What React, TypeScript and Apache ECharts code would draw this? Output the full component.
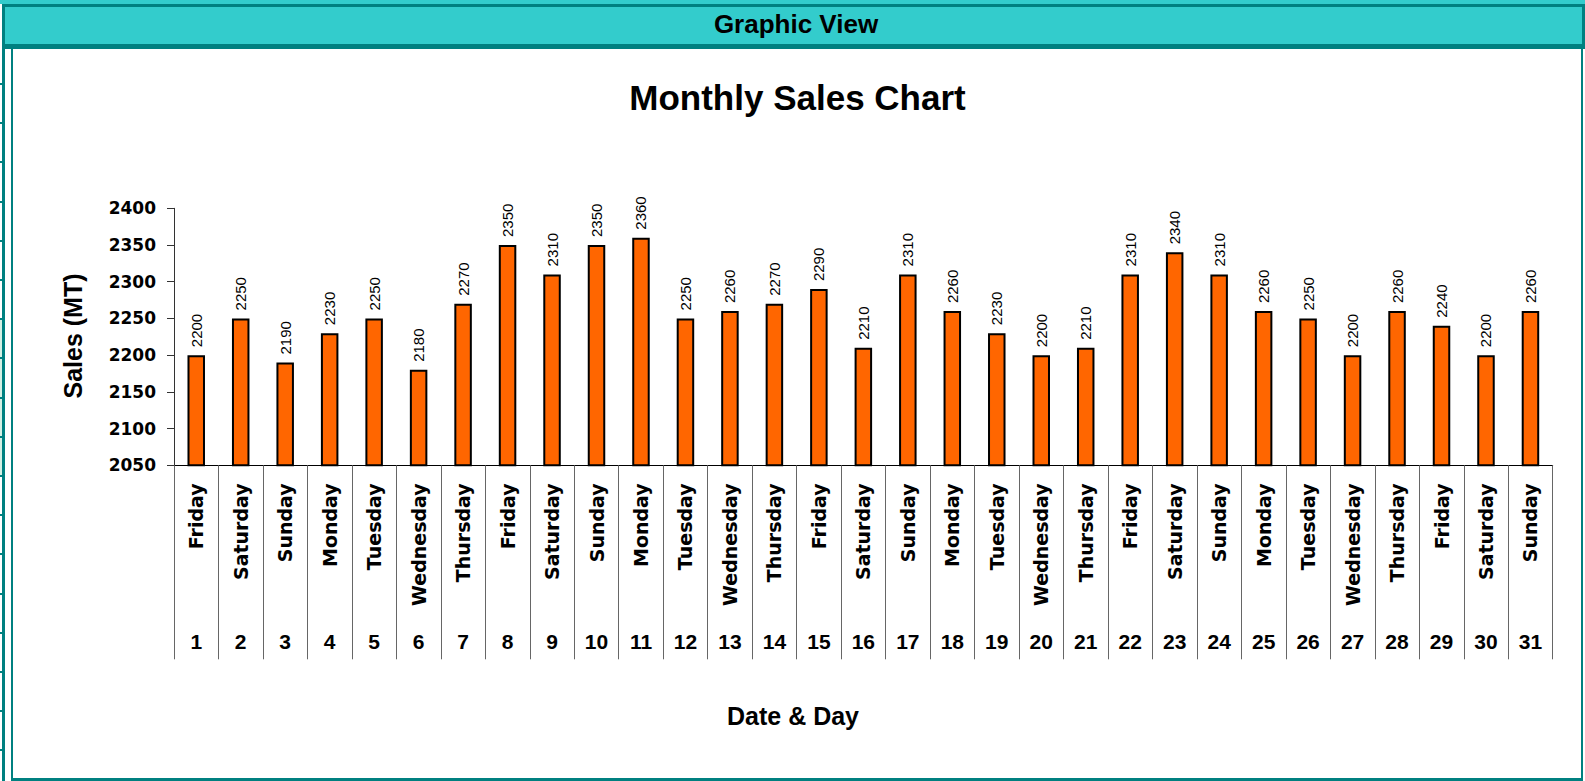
import React, { useEffect, useRef } from "react";
import * as echarts from "echarts";

const days = [
  "Friday", "Saturday", "Sunday", "Monday", "Tuesday", "Wednesday", "Thursday",
  "Friday", "Saturday", "Sunday", "Monday", "Tuesday", "Wednesday", "Thursday",
  "Friday", "Saturday", "Sunday", "Monday", "Tuesday", "Wednesday", "Thursday",
  "Friday", "Saturday", "Sunday", "Monday", "Tuesday", "Wednesday", "Thursday",
  "Friday", "Saturday", "Sunday",
];
const dates = [
  "1", "2", "3", "4", "5", "6", "7", "8", "9", "10", "11", "12", "13", "14", "15", "16",
  "17", "18", "19", "20", "21", "22", "23", "24", "25", "26", "27", "28", "29", "30", "31",
];
const sales = [
  2200, 2250, 2190, 2230, 2250, 2180, 2270, 2350, 2310, 2350, 2360, 2250, 2260, 2270, 2290, 2210,
  2310, 2260, 2230, 2200, 2210, 2310, 2340, 2310, 2260, 2250, 2200, 2260, 2240, 2200, 2260,
];
const yMin = 2050;
const yMax = 2400;
const yStep = 50;

const headerText = "Graphic View";
const titleText = "Monthly Sales Chart";
const xName = "Date & Day";
const yName = "Sales (MT)";

const TEAL = "#33CCCC";
const DARK = "#008080";
const SANS = "'Liberation Sans', Arial, sans-serif";
const DEJA = "'DejaVu Sans', sans-serif";

export default function App() {
  const ref = useRef<HTMLDivElement>(null);

  useEffect(() => {
    document.body.style.margin = "0";
    if (!ref.current) return;
    const chart = echarts.init(ref.current, null, { renderer: "svg" });
    chart.setOption({
      animation: false,
      backgroundColor: "transparent",
      grid: { left: 174, top: 208.3, width: 1378.7, height: 257, containLabel: false },
      graphic: [
        {
          type: "text",
          x: 796,
          y: 24,
          style: {
            text: headerText,
            font: `bold 26px ${SANS}`,
            fill: "#000",
            align: "center",
            verticalAlign: "middle",
          },
        },
        {
          type: "text",
          x: 797.5,
          y: 97,
          style: {
            text: titleText,
            font: `bold 35px ${SANS}`,
            fill: "#000",
            align: "center",
            verticalAlign: "middle",
          },
        },
        {
          type: "text",
          x: 793,
          y: 716,
          style: {
            text: xName,
            font: `bold 25px ${SANS}`,
            fill: "#000",
            align: "center",
            verticalAlign: "middle",
          },
        },
        {
          type: "text",
          x: 73,
          y: 336,
          rotation: Math.PI / 2,
          style: {
            text: yName,
            font: `bold 25px ${SANS}`,
            fill: "#000",
            align: "center",
            verticalAlign: "middle",
          },
        },
      ],
      xAxis: [
        {
          type: "category",
          data: days,
          position: "bottom",
          axisLine: { show: true, lineStyle: { color: "#000", width: 1 } },
          axisTick: {
            show: true,
            interval: 0,
            length: 194,
            alignWithLabel: false,
            lineStyle: { color: "#666", width: 1 },
          },
          axisLabel: {
            interval: 0,
            rotate: 90,
            margin: 18,
            color: "#000",
            fontFamily: DEJA,
            fontWeight: "bold",
            fontSize: 19,
          },
          splitLine: { show: false },
        },
        {
          type: "category",
          data: dates,
          position: "bottom",
          axisLine: { show: false },
          axisTick: { show: false },
          axisLabel: {
            interval: 0,
            margin: 166,
            color: "#000",
            fontFamily: SANS,
            fontWeight: "bold",
            fontSize: 21,
          },
          splitLine: { show: false },
        },
      ],
      yAxis: {
        type: "value",
        min: yMin,
        max: yMax,
        interval: yStep,
        axisLine: { show: true, lineStyle: { color: "#333", width: 1 } },
        axisTick: { show: true, length: 7, lineStyle: { color: "#333" } },
        axisLabel: {
          margin: 18,
          color: "#000",
          fontFamily: DEJA,
          fontWeight: "bold",
          fontSize: 17,
          formatter: (v: number) => String(v),
        },
        splitLine: { show: false },
      },
      series: [
        {
          type: "bar",
          data: sales,
          xAxisIndex: 0,
          barWidth: 17.5,
          itemStyle: { color: "#FF6600", borderColor: "#000", borderWidth: 2 },
          label: {
            show: true,
            position: "top",
            rotate: 90,
            align: "left",
            verticalAlign: "middle",
            distance: 8,
            color: "#000",
            fontFamily: SANS,
            fontSize: 15,
          },
        },
      ],
    });
    return () => chart.dispose();
  }, []);

  const ticks: number[] = [];
  for (let k = 0; k < 18; k++) ticks.push(84 + 39.2 * k);

  const abs = (s: React.CSSProperties): React.CSSProperties => ({ position: "absolute", ...s });

  return (
    <div style={{ position: "relative", width: 1585, height: 781, background: "#fff", overflow: "hidden" }}>
      <style>{`html,body{margin:0;padding:0;overflow:hidden;}`}</style>
      <div style={abs({ left: 0, top: 0, width: 1585, height: 4, background: TEAL })} />
      <div
        style={abs({
          left: 2,
          top: 4,
          width: 1583,
          height: 45,
          background: TEAL,
          borderStyle: "solid",
          borderColor: DARK,
          borderWidth: "3px 3px 5px 3px",
          boxSizing: "border-box",
        })}
      />
      <div style={abs({ left: 0, top: 320, width: 2, height: 155, background: "#d4f0e4" })} />
      {ticks.map((t, i) => (
        <div key={i} style={abs({ left: 0, top: t - 1, width: 2, height: 2, background: DARK })} />
      ))}
      <div style={abs({ left: 2, top: 49, width: 3, height: 732, background: DARK })} />
      <div
        style={abs({
          left: 11,
          top: 49,
          width: 1572,
          height: 732,
          borderLeft: `2px solid ${DARK}`,
          borderRight: `2px solid ${DARK}`,
          borderBottom: `3px solid ${DARK}`,
          boxSizing: "border-box",
        })}
      />
      <div ref={ref} style={abs({ left: 0, top: 0, width: 1585, height: 781 })} />
    </div>
  );
}
